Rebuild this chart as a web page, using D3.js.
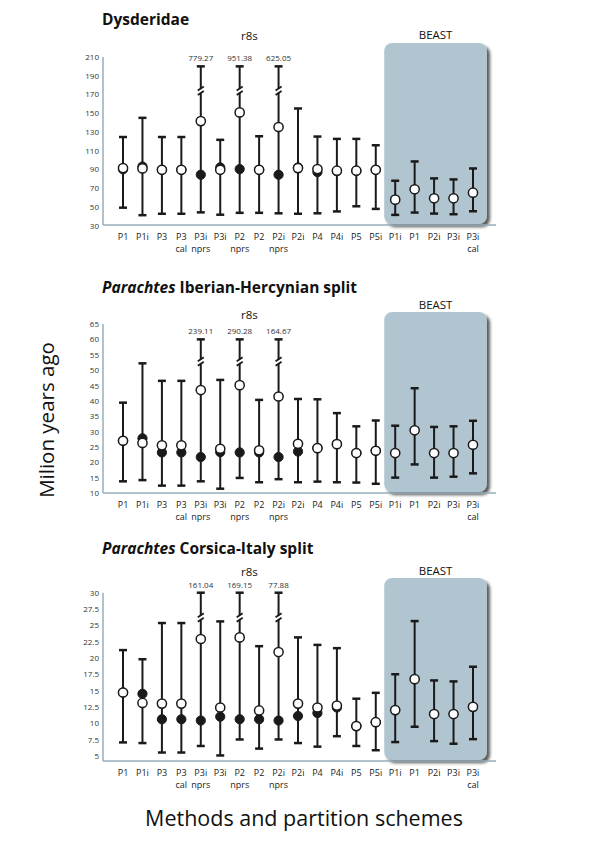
<!DOCTYPE html>
<html><head><meta charset="utf-8">
<script src="https://cdn.jsdelivr.net/npm/d3@7"></script>
<style>body{margin:0;background:#fff}svg{display:block}text{font-family:"Open Sans",sans-serif}</style>
</head><body><svg id="c" width="600" height="848"></svg>
<script>
// ---- data ----
const catLine1 = ["P1","P1i","P3","P3","P3i","P3i","P2","P2","P2i","P2i","P4","P4i","P5","P5i","P1i","P1","P2i","P3i","P3i"];
const catLine2 = ["","","","cal","nprs","","nprs","","nprs","","","","","","","","","","cal"];
const catMethod = ["r8s","r8s","r8s","r8s","r8s","r8s","r8s","r8s","r8s","r8s","r8s","r8s","r8s","r8s","BEAST","BEAST","BEAST","BEAST","BEAST"];

const dysLow   = [49,41,42.5,42.5,44,41.5,43.5,43.5,43,42.5,43,45,50.5,47.7,41.3,43.8,42.7,42,45.2];
const dysHigh  = [124.5,145,124.5,124.5,779.27,121.5,951.38,125.3,625.05,155,125,122.5,122.5,115.7,77.8,98.4,80.3,79.2,90.9];
const dysWhite = [91.3,91,89.5,89.5,141.5,89.5,150.8,89.5,135.2,91.3,90.2,88.5,88.5,89.5,57.6,68.6,59,59,65];
const dysBlack = [90,93,89.5,89.5,84.2,92,90.2,89.5,84.2,92,87,88,88.5,89.5,null,null,null,null,null];
const dysTicks = [30,50,70,90,110,130,150,170,190,210];

const ihLow   = [13.8,14.2,12.4,12.4,13.8,11.4,14.9,13.5,14.5,13.5,13.7,13.5,13.4,13.0,15.0,19.3,15.0,15.3,16.4];
const ihHigh  = [39.4,52.2,46.5,46.5,239.11,46.8,290.28,40.3,164.67,40.6,40.5,36.0,31.7,33.6,31.9,44.1,31.5,31.7,33.5];
const ihWhite = [27.0,26.3,25.5,25.5,43.5,24.4,45.1,23.9,41.4,26.0,24.6,25.9,23.0,23.75,23.0,30.4,23.0,23.0,25.7];
const ihBlack = [27.0,27.8,23.2,23.2,21.7,23.3,23.2,23.2,21.7,23.5,24.6,25.9,23.0,23.75,null,null,null,null,null];
const ihTicks = [10,15,20,25,30,35,40,45,50,55,60,65];

const ciLow   = [7.05,6.95,5.5,5.5,6.5,5.05,7.5,6.1,7.5,6.95,6.4,8.0,6.5,5.85,7.1,9.45,7.25,6.85,7.55];
const ciHigh  = [21.2,19.8,25.35,25.35,161.04,25.6,169.15,21.8,77.88,23.15,22.0,21.5,13.75,14.65,17.5,25.65,16.55,16.4,18.65];
const ciWhite = [14.7,13.1,13.0,13.0,22.9,12.4,23.15,11.95,20.9,13.0,12.4,12.7,9.55,10.15,12.0,16.75,11.4,11.4,12.5];
const ciBlack = [14.7,14.5,10.6,10.6,10.4,11.0,10.6,10.6,10.4,11.1,11.55,12.4,9.55,10.15,null,null,null,null,null];
const ciTicks = [5,7.5,10,12.5,15,17.5,20,22.5,25,27.5,30];

const panels = [
  {title:[{t:"Dysderidae",i:false}], low:dysLow, high:dysHigh, white:dysWhite, black:dysBlack, ticks:dysTicks,
   dmin:30.5, dmax:210, cap:200, brk:174, top:57, bottom:225, titleY:25, headY:40, beastY:39, boxTop:43},
  {title:[{t:"Parachtes",i:true},{t:" Iberian-Hercynian split",i:false}], low:ihLow, high:ihHigh, white:ihWhite, black:ihBlack, ticks:ihTicks,
   dmin:10, dmax:65, cap:60, brk:52.8, top:324, bottom:493, titleY:293, headY:319, beastY:309, boxTop:312},
  {title:[{t:"Parachtes",i:true},{t:" Corsica-Italy split",i:false}], low:ciLow, high:ciHigh, white:ciWhite, black:ciBlack, ticks:ciTicks,
   dmin:4.2, dmax:30, cap:30, brk:26.2, top:592.7, bottom:761, titleY:554, headY:576, beastY:575, boxTop:578}
];

const svg = d3.select("#c");
const defs = svg.append("defs");
const f = defs.append("filter").attr("id","sh").attr("x","-10%").attr("y","-10%").attr("width","130%").attr("height","130%");
f.append("feDropShadow").attr("dx",3).attr("dy",3).attr("stdDeviation",1.6).attr("flood-color","#222").attr("flood-opacity",0.75);

const idx = d3.range(catLine1.length);
const x = d3.scalePoint().domain(idx).range([103,493]).padding(1.03);
const axisCol = "#98aeb9";
const ink = "#1a1a1a";

panels.forEach(p => {
  const g = svg.append("g");
  const y = d3.scaleLinear().domain([p.dmin,p.dmax]).range([p.bottom,p.top]);
  const bIdx = idx.filter(i => catMethod[i]==="BEAST");
  const rIdx = idx.filter(i => catMethod[i]==="r8s");
  const bx0 = x(bIdx[0]) - 11, bx1 = x(bIdx[bIdx.length-1]) + 14;

  // title
  const tt = g.append("text").attr("x",102).attr("y",p.titleY).attr("font-size",15.5).attr("font-weight","bold").attr("fill","#111");
  p.title.forEach(s => tt.append("tspan").attr("font-style", s.i ? "italic" : "normal").text(s.t));

  // BEAST box
  g.append("rect").attr("x",bx0).attr("y",p.boxTop).attr("width",bx1-bx0).attr("height",p.bottom-1-p.boxTop)
    .attr("rx",8).attr("fill","#b1c5d0").attr("filter","url(#sh)");

  // headers
  g.append("text").attr("x",(x(rIdx[0])+x(rIdx[rIdx.length-1]))/2).attr("y",p.headY).attr("text-anchor","middle").attr("font-size",11.5).attr("fill","#111").text("r8s");
  g.append("text").attr("x",(bx0+bx1)/2).attr("y",p.beastY).attr("text-anchor","middle").attr("font-size",11.5).attr("fill","#111").text("BEAST");

  // axes
  const ya = d3.axisLeft(y).tickValues(p.ticks).tickSize(0).tickPadding(4).tickFormat(d3.format("~g"));
  const yg = g.append("g").attr("transform","translate(103,0)").call(ya);
  yg.select(".domain").remove();
  yg.selectAll("text").attr("font-size",8).attr("fill","#333");
  g.append("line").attr("x1",103).attr("x2",103).attr("y1",y(p.dmax)).attr("y2",p.bottom).attr("stroke",axisCol).attr("stroke-width",1.5);
  g.append("line").attr("x1",103).attr("x2",496).attr("y1",p.bottom).attr("y2",p.bottom).attr("stroke",axisCol).attr("stroke-width",1.5);

  // category labels (two lines in one text element)
  idx.forEach(i => {
    const t = g.append("text").attr("y",p.bottom+15).attr("text-anchor","middle").attr("font-size",9).attr("fill","#222");
    t.append("tspan").attr("x",x(i)).text(catLine1[i]);
    if (catLine2[i]) t.append("tspan").attr("x",x(i)).attr("dy",11.5).text(catLine2[i]);
  });

  // error bars
  idx.forEach(i => {
    const cx = x(i);
    const broken = p.high[i] > p.cap;
    const hi = broken ? p.cap : p.high[i];
    g.append("line").attr("x1",cx).attr("x2",cx).attr("y1",y(p.low[i])).attr("y2",y(hi)).attr("stroke",ink).attr("stroke-width",2);
    [p.low[i],hi].forEach(v => g.append("line").attr("x1",cx-4).attr("x2",cx+4).attr("y1",y(v)).attr("y2",y(v)).attr("stroke",ink).attr("stroke-width",2.5));
    if (broken) {
      const by = y(p.brk);
      g.append("rect").attr("x",cx-4).attr("y",by-2).attr("width",8).attr("height",4).attr("fill","#fff");
      [-2.2,2.2].forEach(o => g.append("line").attr("x1",cx-3).attr("x2",cx+3).attr("y1",by+o+2).attr("y2",by+o-2).attr("stroke",ink).attr("stroke-width",1.8));
      g.append("text").attr("x",cx).attr("y",y(hi)-5).attr("text-anchor","middle").attr("font-size",8).attr("fill","#333").text(d3.format(".2f")(p.high[i]));
    }
    if (p.black[i] != null) g.append("circle").attr("cx",cx).attr("cy",y(p.black[i])).attr("r",4.6).attr("fill",ink).attr("stroke",ink).attr("stroke-width",1);
    g.append("circle").attr("cx",cx).attr("cy",y(p.white[i])).attr("r",4.6).attr("fill","#fff").attr("stroke",ink).attr("stroke-width",1.5);
  });
});

svg.append("text").attr("transform","translate(54,420) rotate(-90)").attr("text-anchor","middle").attr("font-size",20.5).attr("fill","#111").text("Milion years ago");
svg.append("text").attr("x",304).attr("y",826).attr("text-anchor","middle").attr("font-size",21.5).attr("fill","#111").text("Methods and partition schemes");
</script></body></html>
